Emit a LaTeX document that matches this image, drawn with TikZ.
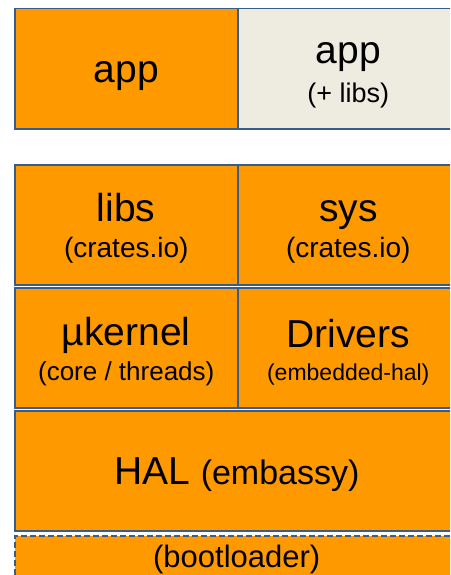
\documentclass[tikz,border=0pt]{standalone}
\usepackage{fontspec}
\setmainfont{Liberation Sans}
\usepackage{tikz}
\usetikzlibrary{positioning}

\definecolor{amber}{HTML}{FF9900}
\definecolor{paper}{HTML}{EEECE1}
\definecolor{edgeblue}{HTML}{385D8A}

\begin{document}
\begin{tikzpicture}[
  x=1pt,y=-1pt,
  layer/.style={rectangle,draw=edgeblue,line width=1.5pt,fill=amber,anchor=north west,inner sep=0pt,minimum height=120pt},
  title/.style={anchor=base,inner sep=0pt,font=\fontsize{39}{44}\selectfont},
  sub/.style={anchor=base,inner sep=0pt,font=\fontsize{#1}{#1}\selectfont},
  sub/.default=28
]
\useasboundingbox (0,0) rectangle (450,575);
\clip (0,0) rectangle (450,575);
\fill[white] (0,0) rectangle (450,575);

% top row
\node[layer,minimum width=223pt] (app) at (14,8) {};
\node[layer,fill=paper,minimum width=221pt] (appx) at (237,8) {};
% crates row
\node[layer,minimum width=223pt] (libs) at (14,164) {};
\node[layer,minimum width=221pt] (sys) at (237,164) {};
% kernel row
\node[layer,minimum width=223pt] (kern) at (14,287) {};
\node[layer,minimum width=221pt] (drv) at (237,287) {};
% hal + bootloader
\node[layer,minimum width=444pt] (hal) at (14,410) {};
\node[layer,dash pattern=on 6pt off 3pt,minimum width=444pt,minimum height=60pt] (boot) at (14,535) {};

% labels
\node[title] (appT) at ([yshift=-14pt]app.center) {app};
\node[title] (appxT) at ([yshift=5pt]appx.center) {app};
\node[sub=27] (appxS) at ([yshift=-34pt]appx.center) {(+ libs)};
\node[title] (libsT) at ([yshift=3pt]libs.center) {libs};
\node[sub] (libsS) at ([yshift=-33pt]libs.center) {(crates.io)};
\node[title] (sysT) at ([yshift=3pt]sys.center) {sys};
\node[sub] (sysS) at ([yshift=-33pt]sys.center) {(crates.io)};
\node[title] (kernT) at ([yshift=2pt]kern.center) {µkernel};
\node[sub=26] (kernS) at ([yshift=-33pt]kern.center) {(core / threads)};
\node[title] (drvT) at ([yshift=0pt]drv.center) {Drivers};
\node[sub=23] (drvS) at ([yshift=-33pt]drv.center) {(embedded-hal)};
\node[title] (halT) at ([yshift=-14pt]hal.center) {HAL {\fontsize{34}{40}\selectfont(embassy)}};
\node[sub=31] (bootT) at ([yshift=-2pt]boot.center) {(bootloader)};
\end{tikzpicture}
\end{document}
